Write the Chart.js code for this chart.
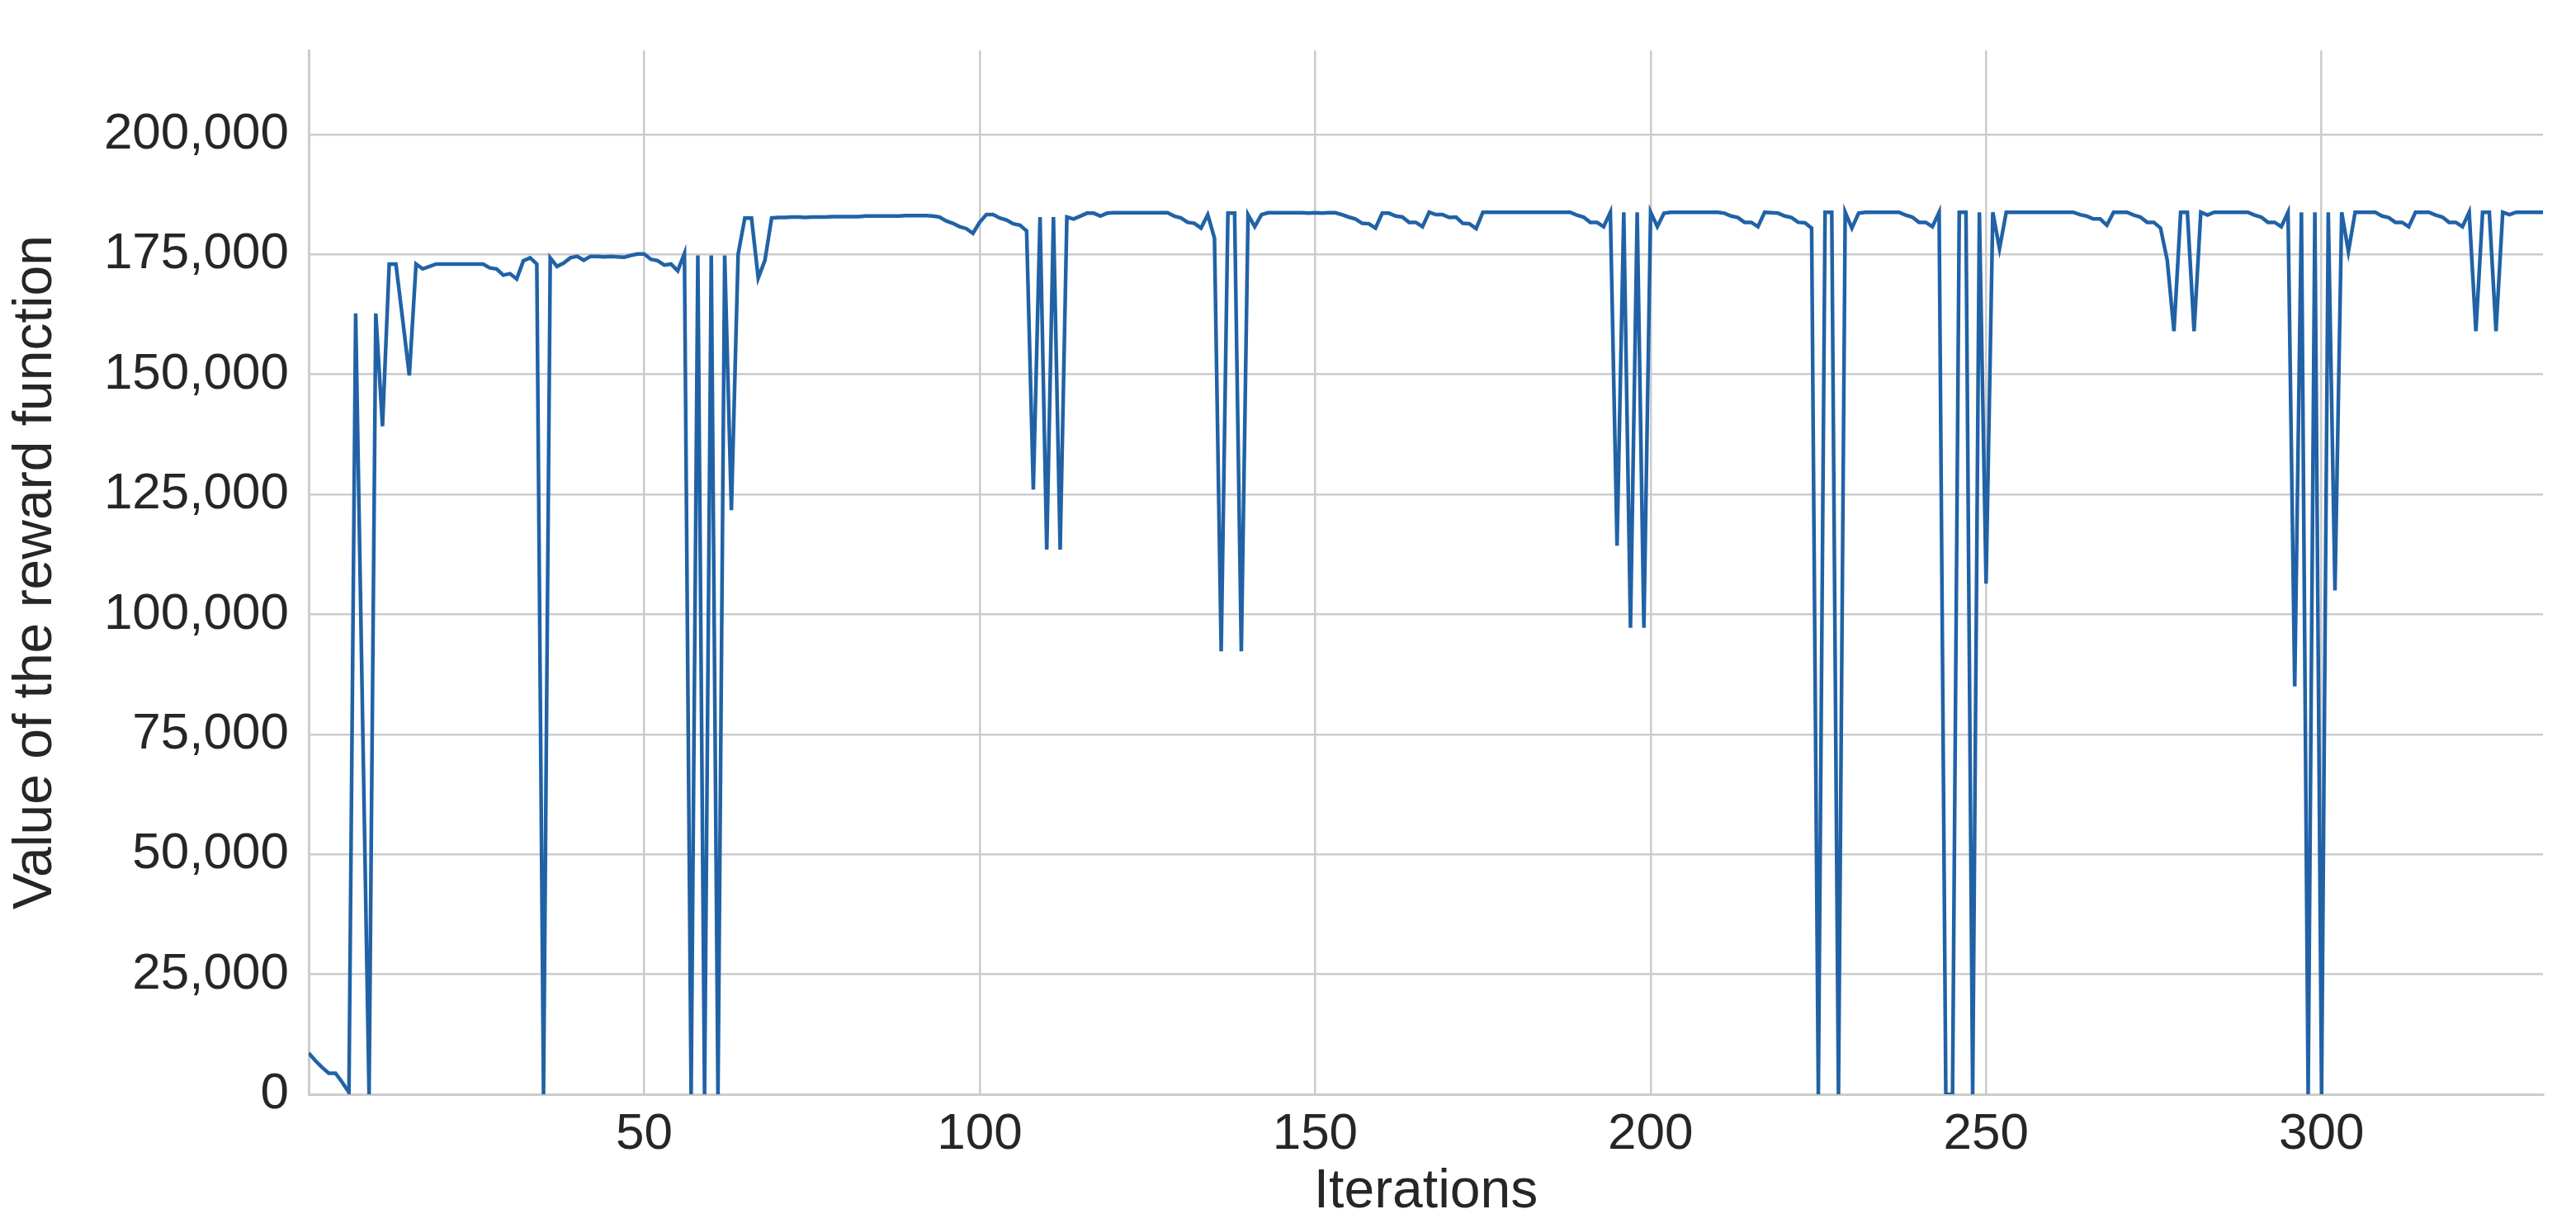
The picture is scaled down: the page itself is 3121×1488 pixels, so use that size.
<!DOCTYPE html>
<html><head><meta charset="utf-8">
<script src="https://cdn.jsdelivr.net/npm/chart.js@4"></script>
<style>html,body{margin:0;padding:0;background:#fff}canvas{display:block}</style>
</head><body>
<canvas id="c" width="3121" height="1488"></canvas>
<script>
const rewardValues = [
8600,7000,5600,4400,4400,2500,400,162700,81000,0,
162700,139200,173000,173000,161500,149800,173000,172000,172500,173000,
173000,173000,173000,173000,173000,173000,173000,172200,172000,170700,
171000,169900,173700,174300,173000,0,174300,172500,173200,174300,
174600,173800,174600,174600,174500,174600,174500,174400,174800,175100,
175100,174000,173700,172800,173000,171600,175200,0,174800,0,
174800,0,174800,121700,175000,182600,182600,170100,173800,182600,
182700,182700,182800,182800,182700,182800,182800,182800,182900,182900,
182900,182900,182900,183000,183000,183000,183000,183000,183000,183100,
183100,183100,183100,183000,182800,182000,181500,180800,180400,179400,
181700,183300,183300,182600,182200,181400,181100,179900,126000,182800,
113500,182800,113500,182800,182400,183000,183600,183600,183000,183600,
183700,183700,183700,183700,183700,183700,183700,183700,183700,183000,
182600,181700,181500,180500,183300,178400,92300,183600,183600,92300,
183300,180800,183300,183700,183700,183700,183700,183700,183700,183600,
183700,183600,183700,183700,183300,182800,182400,181500,181400,180500,
183600,183600,183000,182800,181700,181700,180800,183800,183300,183300,
182700,182800,181500,181400,180400,183800,183800,183800,183800,183800,
183800,183800,183800,183800,183800,183800,183800,183800,183800,183200,
182800,181700,181700,180800,183800,114300,183800,97200,183800,97200,
183800,180800,183600,183800,183800,183800,183800,183800,183800,183800,
183800,183600,183000,182700,181700,181700,180800,183800,183700,183600,
183000,182700,181700,181600,180500,0,183800,183800,0,183800,
180500,183600,183800,183800,183800,183800,183800,183800,183200,182800,
181700,181700,180800,183800,0,0,183800,183800,0,183800,
106400,183800,176200,183800,183800,183800,183800,183800,183800,183800,
183800,183800,183800,183800,183300,183000,182400,182400,181100,183800,
183800,183800,183200,182800,181700,181700,180500,173800,159000,183800,
183800,159000,183800,183200,183800,183800,183800,183800,183800,183800,
183200,182800,181700,181700,180800,183800,85000,183800,0,183800,
0,183800,105000,183800,175600,183800,183800,183800,183800,183000,
182700,181700,181700,180800,183800,183800,183800,183200,182800,181700,
181700,180800,183800,159000,183800,183800,159000,183800,183300,183800,
183800,183800,183800,183800
];
const iterations = rewardValues.map((_, i) => i);
const xTicks = [50,100,150,200,250,300];
const yTicks = [0,25000,50000,75000,100000,125000,150000,175000,200000];

const points = iterations.map((x, i) => ({x, y: rewardValues[i]}));
const font = 'Liberation Sans, Arial, sans-serif';
new Chart(document.getElementById('c'), {
  type: 'line',
  data: {datasets: [{data: points, borderColor: '#2162a6', borderWidth: 4.5, pointRadius: 0, tension: 0, fill: false}]},
  options: {
    responsive: false, animation: false, devicePixelRatio: 1,
    layout: {padding: {top: 18, right: 40, left: 0, bottom: 0}},
    plugins: {legend: {display: false}, tooltip: {enabled: false}},
    scales: {
      x: {
        type: 'linear', min: 0, max: 333,
        afterBuildTicks: s => { s.ticks = xTicks.map(v => ({value: v})); },
        afterFit: s => { s.height = 162; },
        grid: {color: '#cccccc', lineWidth: 2.5, drawTicks: false},
        border: {color: '#cccccc', width: 3},
        ticks: {color: '#262626', font: {family: font, size: 62}, padding: 12, maxRotation: 0},
        title: {display: true, text: 'Iterations', color: '#262626', font: {family: font, size: 66}, padding: {top: 0}}
      },
      y: {
        min: 0, max: 217500,
        afterBuildTicks: s => { s.ticks = yTicks.map(v => ({value: v})); },
        afterFit: s => { s.width = 374; },
        grid: {color: '#cccccc', lineWidth: 2.5, drawTicks: false},
        border: {color: '#cccccc', width: 3},
        ticks: {color: '#262626', font: {family: font, size: 62}, padding: 24,
          callback: v => v.toLocaleString('en-US')},
        title: {display: true, text: 'Value of the reward function', color: '#262626', font: {family: font, size: 66}, padding: {bottom: 4}}
      }
    }
  }
});
</script>
</body></html>
